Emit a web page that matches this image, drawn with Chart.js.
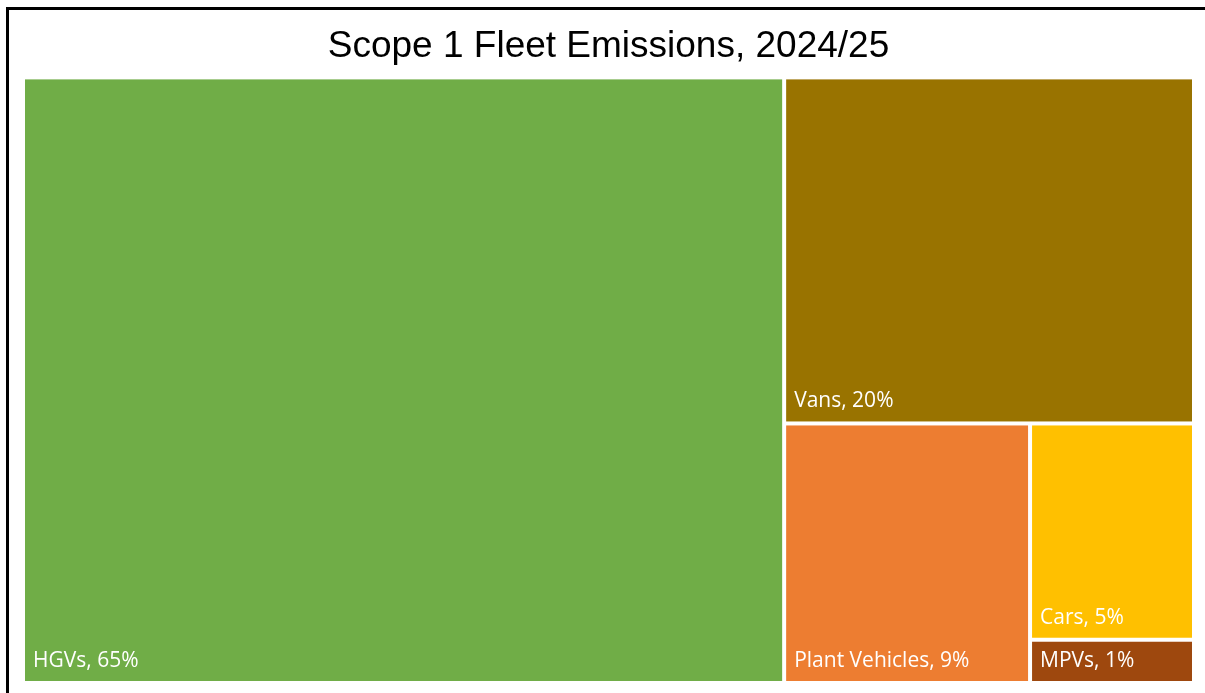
<!DOCTYPE html>
<html>
<head>
<meta charset="utf-8">
<script src="https://cdn.jsdelivr.net/npm/chart.js@4.4.1/dist/chart.umd.min.js"></script>
<style>
  html, body { margin: 0; padding: 0; background: #fff; }
  #wrap { position: relative; width: 1205px; height: 693px; }
</style>
</head>
<body>
<div id="wrap"><canvas id="fleet-chart"></canvas></div>
<script>
const categories = ['HGVs', 'Vans', 'Plant Vehicles', 'Cars', 'MPVs'];
const shares = [65, 20, 9, 5, 1];
const colours = ['#70AD47', '#997300', '#ED7D31', '#FFC000', '#9E480E'];

// squarified treemap: areas laid out in a w x h box, returned as boxes
function squarify(values, box) {
    const total = values.reduce((a, b) => a + b, 0);
    const areas = values.map(v => v / total * box.w * box.h);
    const out = [];
    let rect = Object.assign({}, box);
    let row = [];
    let i = 0;

    function worst(r, side) {
        const s = r.reduce((a, b) => a + b, 0);
        const max = Math.max.apply(null, r), min = Math.min.apply(null, r);
        return Math.max(side * side * max / (s * s), (s * s) / (side * side * min));
    }

    function layoutRow(r, rc) {
        const s = r.reduce((a, b) => a + b, 0);
        if (rc.w >= rc.h) {
            const colW = s / rc.h;
            let y = rc.y;
            r.forEach(a => { out.push({x: rc.x, y: y, w: colW, h: a / colW}); y += a / colW; });
            return {x: rc.x + colW, y: rc.y, w: rc.w - colW, h: rc.h};
        }
        const rowH = s / rc.w;
        let x = rc.x;
        r.forEach(a => { out.push({x: x, y: rc.y, w: a / rowH, h: rowH}); x += a / rowH; });
        return {x: rc.x, y: rc.y + rowH, w: rc.w, h: rc.h - rowH};
    }

    while (i < areas.length) {
        const side = Math.min(rect.w, rect.h);
        const next = row.concat(areas[i]);
        if (row.length === 0 || worst(next, side) <= worst(row, side)) {
            row = next;
            i++;
        } else {
            rect = layoutRow(row, rect);
            row = [];
        }
    }
    if (row.length) layoutRow(row, rect);
    return out;
}

const frame = {
    id: 'frame',
    beforeDraw(chart) {
        const ctx = chart.ctx;
        ctx.save();
        ctx.fillStyle = '#000';
        ctx.fillRect(6, 7, 3, chart.height - 7);
        ctx.fillRect(6, 7, chart.width - 6, 3);
        ctx.restore();
    }
};

const treemap = {
    id: 'treemap',
    afterDatasetsDraw(chart) {
        const ctx = chart.ctx;
        const xs = chart.scales.x, ys = chart.scales.y;
        const vals = chart.data.datasets[0].tree;
        const W = xs.width, H = ys.height;
        const cells = squarify(vals, {x: 0, y: 0, w: W, h: H});
        const gap = 2;

        ctx.save();
        cells.forEach((c, i) => {
            const x0 = xs.getPixelForValue(c.x / W);
            const x1 = xs.getPixelForValue((c.x + c.w) / W);
            const y0 = ys.getPixelForValue(c.y / H);
            const y1 = ys.getPixelForValue((c.y + c.h) / H);
            ctx.fillStyle = colours[i];
            ctx.fillRect(x0 + gap, y0 + gap, x1 - x0 - 2 * gap, y1 - y0 - 2 * gap);

            ctx.fillStyle = '#fff';
            ctx.font = '21px "Open Sans"';
            ctx.textAlign = 'left';
            ctx.textBaseline = 'alphabetic';
            ctx.fillText(chart.data.labels[i] + ', ' + vals[i] + '%', x0 + gap + 8, y1 - gap - 14);
        });
        ctx.restore();
    }
};

function initFleetChart() {
    let data = {
        labels: categories,
        datasets: [{
            data: [],
            tree: shares,
            pointRadius: 0
        }]
    };

    let options = {
        responsive: true,
        maintainAspectRatio: false,
        animation: false,
        events: [],
        layout: {
            padding: {left: 23, right: 11, top: 0, bottom: 10}
        },
        plugins: {
            legend: {display: false},
            tooltip: {enabled: false},
            title: {
                display: true,
                text: 'Scope 1 Fleet Emissions, 2024/25',
                color: '#000',
                font: {size: 37, family: '"Liberation Sans", Arial', weight: 'normal'},
                padding: {top: 25, bottom: 8}
            }
        },
        scales: {
            x: {type: 'linear', min: 0, max: 1, display: false},
            y: {type: 'linear', min: 0, max: 1, reverse: true, display: false}
        }
    };

    let ctx = document.getElementById('fleet-chart').getContext('2d');
    const chart = new Chart(ctx, {
        type: 'scatter',
        data: data,
        options: options,
        plugins: [frame, treemap]
    });
}

document.addEventListener('DOMContentLoaded', function() {
    initFleetChart()
});
</script>
</body>
</html>
